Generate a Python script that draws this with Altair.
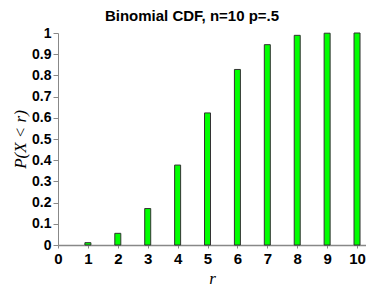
import altair as alt
import pandas as pd

r_values = [1, 2, 3, 4, 5, 6, 7, 8, 9, 10]
cdf_values = [0.011, 0.055, 0.172, 0.377, 0.623, 0.828, 0.945, 0.989, 0.999, 1.0]
x_ticks = list(range(0, 11))
y_ticks = [round(i * 0.1, 1) for i in range(0, 11)]

df = pd.DataFrame({"r": r_values, "p": cdf_values})

chart = alt.Chart(df).mark_bar(
    width=6, color="#00ff00", stroke="#333333", strokeWidth=1
).encode(
    x=alt.X("r:Q",
            scale=alt.Scale(domain=[0, 10.3], nice=False, zero=False, padding=0),
            axis=alt.Axis(values=x_ticks, title="r", format="d",
                          titleFont="Liberation Serif", titleFontStyle="italic",
                          titleFontWeight="normal", titleFontSize=17,
                          titleY=33, titleBaseline="middle", titleColor="black",
                          labelFont="Liberation Sans", labelFontWeight="bold",
                          labelFontSize=15, labelColor="black", labelPadding=3,
                          tickSize=3, tickColor="#888888", domainColor="#888888",
                          domainWidth=1.5, grid=False, labelFlush=False,
                          labelOverlap=False)),
    y=alt.Y("p:Q",
            scale=alt.Scale(domain=[0, 1], nice=False),
            axis=alt.Axis(values=y_ticks, title="P(X < r)", format=".1~f",
                          titleFont="Liberation Serif", titleFontStyle="italic",
                          titleFontWeight="normal", titleFontSize=17,
                          titleX=-38, titleY=106, titleAngle=270,
                          titleAlign="center", titleBaseline="middle",
                          titleColor="black",
                          labelFont="Liberation Sans", labelFontWeight="bold",
                          labelFontSize=14, labelColor="black", labelPadding=2,
                          tickSize=5, tickColor="#888888", domainColor="#888888",
                          grid=False, labelFlush=False, labelOverlap=False)),
).properties(
    width=308,
    height=212,
    title=alt.TitleParams("Binomial CDF, n=10 p=.5", font="Liberation Sans",
                          fontSize=15, fontWeight="bold", color="black",
                          dx=-20, dy=11, offset=13, frame="group"),
    autosize=alt.AutoSizeParams(type="none"),
    padding={"left": 50, "top": 25, "right": 0, "bottom": 50},
).configure_view(stroke=None)

chart.save("out.html", embed_options={"renderer": "svg", "actions": False})
